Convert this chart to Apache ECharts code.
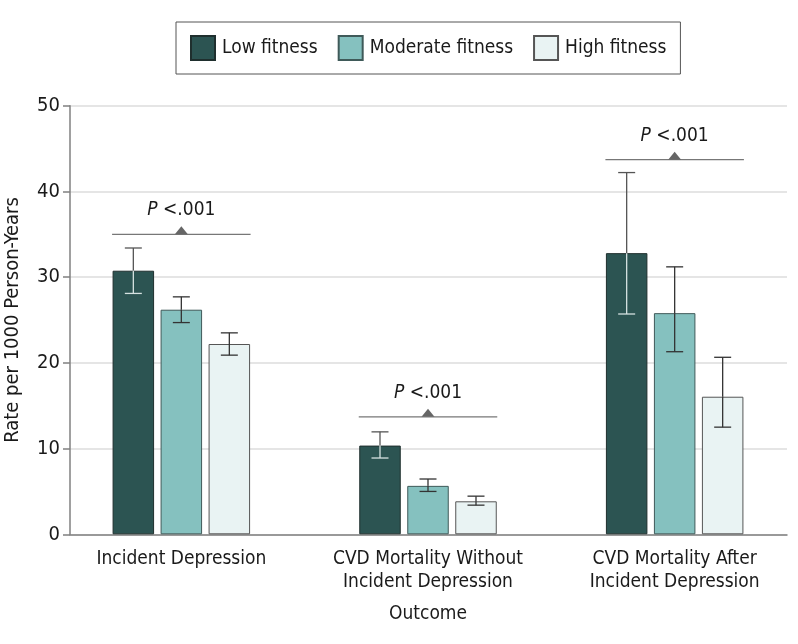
<!DOCTYPE html>
<html>
<head>
<meta charset="utf-8">
<script src="https://cdn.jsdelivr.net/npm/echarts@6/dist/echarts.min.js"></script>
<style>html,body{margin:0;padding:0;background:#fff}#c{width:798px;height:644px}</style>
</head>
<body>
<div id="c"></div>
<script>
const categories = ['Incident Depression', 'CVD Mortality Without\nIncident Depression', 'CVD Mortality After\nIncident Depression'];
const seriesNames = ['Low fitness', 'Moderate fitness', 'High fitness'];
const lowRate = [30.75, 10.35, 32.8];
const lowLower = [28.1, 8.9, 25.7];
const lowUpper = [33.4, 11.95, 42.2];
const modRate = [26.2, 5.65, 25.8];
const modLower = [24.7, 5.0, 21.3];
const modUpper = [27.7, 6.45, 31.2];
const highRate = [22.2, 3.85, 16.05];
const highLower = [20.9, 3.4, 12.5];
const highUpper = [23.5, 4.45, 20.65];
const pLevel = [35.0, 13.7, 43.7];
const pLabel = ['P <.001', 'P <.001', 'P <.001'];
const yTicks = [0, 10, 20, 30, 40, 50];

const F = "'Liberation Sans Narrow','DejaVu Sans Condensed','Arial Narrow',sans-serif";
const colors = ['#2c5452', '#85c1bf', '#e9f3f3'];
const borders = ['#1f2f2e', '#3f5a59', '#555'];
const BW = 41.5, GAP = 6.5, PITCH = BW + GAP;

const chart = echarts.init(document.getElementById('c'), null, {renderer: 'canvas'});

function errSeries(k, rate, lo, hi, inner, outer) {
  return {
    type: 'custom', name: 'err' + k, xAxisIndex: 0, yAxisIndex: 0, z: 5,
    data: rate.map((v, i) => [i, lo[i], hi[i], v]),
    encode: {x: 0, y: [1, 2]},
    renderItem: function (params, api) {
      const i = api.value(0), l = api.value(1), h = api.value(2), v = api.value(3);
      const cx = api.coord([i, v])[0] + (k - 1) * PITCH;
      const yv = api.coord([i, v])[1], yl = api.coord([i, l])[1], yh = api.coord([i, h])[1];
      const cap = 8.5;
      return {type: 'group', children: [
        {type: 'line', shape: {x1: cx, y1: yh, x2: cx, y2: yv}, style: {stroke: outer, lineWidth: 1.3}},
        {type: 'line', shape: {x1: cx, y1: yv, x2: cx, y2: yl}, style: {stroke: inner, lineWidth: 1.3}},
        {type: 'line', shape: {x1: cx - cap, y1: yh, x2: cx + cap, y2: yh}, style: {stroke: outer, lineWidth: 1.3}},
        {type: 'line', shape: {x1: cx - cap, y1: yl, x2: cx + cap, y2: yl}, style: {stroke: inner, lineWidth: 1.3}}
      ]};
    }
  };
}

const option = {
  animation: false,
  backgroundColor: '#fff',
  legend: {
    data: seriesNames, left: 176, top: 22, icon: 'rect',
    padding: [13, 14, 13, 14], borderColor: '#555', borderWidth: 1,
    itemWidth: 24, itemHeight: 24, itemGap: 20,
    textStyle: {fontFamily: F, fontSize: 19, color: '#1a1a1a', padding: [0, 0, 0, 2]}
  },
  grid: [
    {left: 58, right: 0, top: 105.7, bottom: 109.7, outerBoundsMode: 'none', containLabel: false},
    {left: 70, right: 11, top: 105.7, bottom: 109.7, outerBoundsMode: 'none', containLabel: false}
  ],
  xAxis: [
    {type: 'category', gridIndex: 0, data: categories,
     axisLine: {show: false}, axisTick: {show: false},
     axisLabel: {interval: 0, fontFamily: F, fontSize: 19, color: '#1a1a1a', margin: 13, lineHeight: 23},
     name: 'Outcome', nameLocation: 'middle', nameGap: 70,
     nameTextStyle: {fontFamily: F, fontSize: 19, color: '#1a1a1a'}},
    {type: 'value', gridIndex: 1, min: 0, max: 1,
     axisLine: {show: true, lineStyle: {color: '#808080', width: 1.5}},
     axisTick: {show: false}, axisLabel: {show: false}, splitLine: {show: false}}
  ],
  yAxis: [
    {type: 'value', gridIndex: 0, min: 0, max: 50, show: false, splitLine: {show: false}},
    {type: 'value', gridIndex: 1, min: yTicks[0], max: yTicks[yTicks.length - 1], interval: 10,
     axisLine: {show: true, lineStyle: {color: '#808080', width: 1.5}},
     axisTick: {show: true, length: 7, lineStyle: {color: '#808080', width: 1.5}},
     axisLabel: {fontFamily: F, fontSize: 20, color: '#1a1a1a', margin: 10},
     splitLine: {show: true, lineStyle: {color: '#dcdcdc', width: 1.5}},
     name: 'Rate per 1000 Person-Years', nameLocation: 'middle', nameRotate: 90, nameGap: 47,
     nameTextStyle: {fontFamily: F, fontSize: 20, color: '#1a1a1a'}}
  ],
  series: [
    {type: 'bar', name: seriesNames[0], data: lowRate, xAxisIndex: 0, yAxisIndex: 0,
     barWidth: BW, barGap: (GAP / BW * 100) + '%', z: 3,
     itemStyle: {color: colors[0], borderColor: borders[0], borderWidth: 1}},
    {type: 'bar', name: seriesNames[1], data: modRate, xAxisIndex: 0, yAxisIndex: 0,
     barWidth: BW, barGap: (GAP / BW * 100) + '%', z: 3,
     itemStyle: {color: colors[1], borderColor: borders[1], borderWidth: 1}},
    {type: 'bar', name: seriesNames[2], data: highRate, xAxisIndex: 0, yAxisIndex: 0,
     barWidth: BW, barGap: (GAP / BW * 100) + '%', z: 3,
     itemStyle: {color: colors[2], borderColor: borders[2], borderWidth: 1}},
    errSeries(0, lowRate, lowLower, lowUpper, '#d6e2e1', '#555'),
    errSeries(1, modRate, modLower, modUpper, '#333', '#333'),
    errSeries(2, highRate, highLower, highUpper, '#333', '#333'),
    {type: 'custom', name: 'pval', xAxisIndex: 0, yAxisIndex: 0, z: 5,
     data: pLevel.map((v, i) => [i, v, pLabel[i]]),
     encode: {x: 0, y: 1},
     renderItem: function (params, api) {
       const i = api.value(0), v = api.value(1);
       const p = api.coord([i, v]);
       const cx = p[0], y = p[1];
       const half = PITCH + BW / 2 + 0.5;
       const txt = String(pLabel[params.dataIndex]).replace(/^P/, '{i|P}');
       return {type: 'group', children: [
         {type: 'line', shape: {x1: cx - half, y1: y, x2: cx + half, y2: y}, style: {stroke: '#777', lineWidth: 1.2}},
         {type: 'polygon', shape: {points: [[cx - 6.5, y], [cx + 6.5, y], [cx, y - 8]]}, style: {fill: '#666'}},
         {type: 'text', x: cx, y: y - 24, style: {
           text: txt, align: 'center', verticalAlign: 'middle',
           font: '19px ' + F, fill: '#1a1a1a',
           rich: {i: {fontStyle: 'italic', fontSize: 19, fontFamily: F, fill: '#1a1a1a'}}
         }}
       ]};
     }}
  ]
};
chart.setOption(option);
</script>
</body>
</html>
